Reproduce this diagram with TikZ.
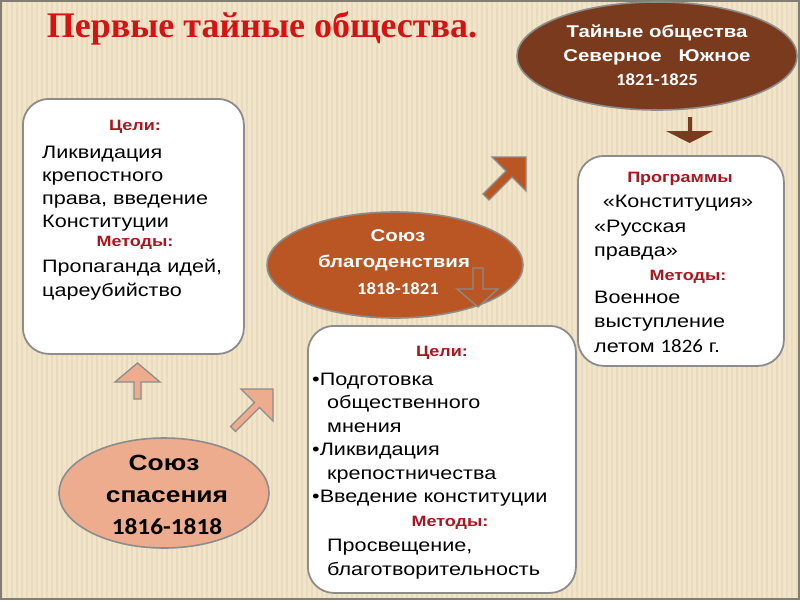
\documentclass[tikz,border=0pt]{standalone}
\usepackage{fontspec}
\setmainfont{Liberation Sans}[FakeStretch=1.2]
\newfontfamily\titlef{Liberation Serif}
\newfontfamily\numf{Carlito}[FakeStretch=1.1]
\usetikzlibrary{shapes.geometric}
\definecolor{bgbeige}{RGB}{241,228,201}
\definecolor{stripec}{RGB}{233,219,190}
\definecolor{framec}{RGB}{130,125,115}
\definecolor{boxgray}{RGB}{140,140,140}
\definecolor{darkbrown}{RGB}{122,58,30}
\definecolor{orangebr}{RGB}{185,86,36}
\definecolor{salmon}{RGB}{238,172,142}
\definecolor{titlered}{RGB}{215,18,18}
\definecolor{headred}{RGB}{170,22,32}
\tikzset{
  roundbox/.style={draw=boxgray, line width=1.8pt, fill=white, rounded corners=26pt, anchor=north west, inner sep=0pt},
  ell/.style={ellipse, draw=boxgray, line width=1.6pt, inner sep=0pt},
  body/.style={inner sep=0pt, anchor=base west, font=\fontsize{18}{22}\selectfont, text=black},
  head/.style={inner sep=0pt, anchor=center, font=\fontsize{15}{18}\selectfont\bfseries, text=headred},
  elltxt/.style={inner sep=0pt, anchor=center, text=white, font=\fontsize{17}{20}\selectfont\bfseries},
  bigtxt/.style={inner sep=0pt, anchor=center, text=black, font=\fontsize{22}{26}\selectfont\bfseries},
  blockarrow/.style={draw=boxgray, line width=1.3pt, line join=miter}
}
\begin{document}
\begin{tikzpicture}[x=1pt,y=-1pt]
\useasboundingbox (0,0) rectangle (800,600);
% background
\fill[bgbeige] (0,0) rectangle (800,600);
\foreach \i in {2,7,...,800} \draw[stripec, line width=1.3pt] (\i,0) -- (\i,600);
\draw[framec, line width=2pt] (1,1) rectangle (799,599);

% title
\node[inner sep=0pt, anchor=center, text=titlered, font=\fontsize{36}{40}\selectfont\titlef\bfseries] (title) at (262,28) {Первые тайные общества.};

% ---------- left box ----------
\node[roundbox, minimum width=221pt, minimum height=255pt] (lbox) at (22,98) {};
\node[head] (lgoal) at (135,127) {Цели:};
\foreach \t [count=\i] in {Ликвидация, крепостного, {права, введение}, Конституции}
  \node[body] (lb\i) at ({42},{158+23.3*(\i-1)}) {\t};
\node[head] (lmeth) at (135,243) {Методы:};
\node[body] (lc1) at (42,272) {Пропаганда идей,};
\node[body] (lc2) at (42,296) {цареубийство};

% ---------- middle bottom box ----------
\node[roundbox, minimum width=268pt, minimum height=267pt] (mbox) at (307,325) {};
\node[head] (mgoal) at (442,353) {Цели:};
\node[body] (mb1) at (312,385) {•Подготовка};
\node[body] (mb2) at (327,408.5) {общественного};
\node[body] (mb3) at (327,432) {мнения};
\node[body] (mb4) at (312,455.5) {•Ликвидация};
\node[body] (mb5) at (327,479) {крепостничества};
\node[body] (mb6) at (312,502.5) {•Введение конституции};
\node[head] (mmeth) at (450,523) {Методы:};
\node[body] (mc1) at (327,551) {Просвещение,};
\node[body] (mc2) at (327,575) {благотворительность};

% ---------- right box ----------
\node[roundbox, minimum width=206pt, minimum height=210pt] (rbox) at (577,155) {};
\node[head] (rprog) at (680,179) {Программы};
\node[body, anchor=base] (rb1) at (678,207) {«Конституция»};
\node[body] (rb2) at (594,232) {«Русская};
\node[body] (rb3) at (594,256) {правда»};
\node[head] (rmeth) at (688,277) {Методы:};
\node[body] (rc1) at (594,303) {Военное};
\node[body] (rc2) at (594,327) {выступление};
\node[body] (rc3) at (594,352) {летом {\fontsize{19}{22}\selectfont\numf 1826} г.};

% ---------- top right ellipse ----------
\node[ell, fill=darkbrown, minimum width=280pt, minimum height=108pt] (topell) at (657,56) {};
\node[elltxt] (t1) at (657,33) {Тайные общества};
\node[elltxt] (t2) at (657,57) {Северное\ \ \ Южное};
\node[elltxt, font=\fontsize{17}{20}\selectfont\numf\bfseries] (t3) at (657,80) {1821-1825};

% ---------- middle ellipse ----------
\node[ell, fill=orangebr, minimum width=256pt, minimum height=106pt] (midell) at (395,265) {};
\node[elltxt] (m1) at (398,236) {Союз};
\node[elltxt] (m2) at (394,263) {благоденствия};
\node[elltxt, font=\fontsize{17}{20}\selectfont\numf\bfseries] (m3) at (398,289) {1818-1821};

% ---------- bottom ellipse ----------
\node[ell, fill=salmon, minimum width=210pt, minimum height=110pt] (botell) at (164,493) {};
\node[bigtxt] (b1) at (164,463) {Союз};
\node[bigtxt] (b2) at (167,497) {спасения};
\node[bigtxt, font=\fontsize{23}{26}\selectfont\numf\bfseries] (b3) at (167,527) {1816-1818};

% ---------- block arrows ----------
% brown down arrow under top ellipse
\fill[darkbrown] (688,117) -- (692,117) -- (692,131) -- (713,131) -- (689.5,143) -- (666,131) -- (688,131) -- cycle;
% hollow down arrow on middle ellipse
\filldraw[blockarrow, fill=orangebr] (473,268) -- (483,268) -- (483,289) -- (498,289) -- (478,307) -- (457,289) -- (473,289) -- cycle;
% orange diagonal arrow
\filldraw[blockarrow, fill=orangebr] (492,157) -- (526,157) -- (526,191) -- (512,177) -- (489,200) -- (483,194) -- (506,171) -- cycle;
% salmon up arrow
\filldraw[blockarrow, fill=salmon] (115,382) -- (137.5,363) -- (160,382) -- (141,382) -- (141,399) -- (134,399) -- (134,382) -- cycle;
% salmon diagonal arrow
\filldraw[blockarrow, fill=salmon] (241,389) -- (273,389) -- (273,421) -- (259.5,407.5) -- (235.5,431.5) -- (230.5,426.5) -- (254.5,402.5) -- cycle;
\end{tikzpicture}
\end{document}
